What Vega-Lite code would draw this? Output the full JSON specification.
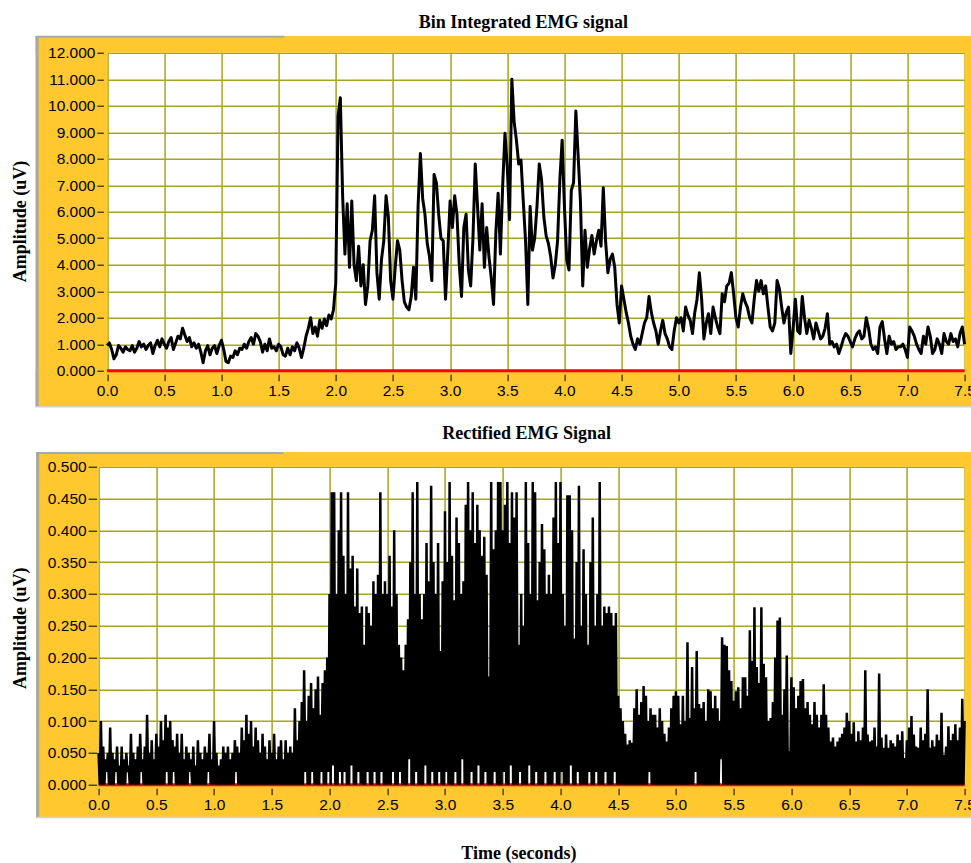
{
"$schema":"https://vega.github.io/schema/vega-lite/v6.json",
"background":"white",
"padding":{"left":11.6,"top":13.7,"right":0,"bottom":0},
"config":{
 "view":{"fill":"white","stroke":null},
 "axis":{"labelFont":"Liberation Sans","labelFontSize":15.5,"labelColor":"#000000","tickColor":"#000000","tickWidth":1,"domain":false,"titleFont":"Liberation Serif","titleFontSize":18,"titleFontWeight":"bold","titleColor":"#000000","gridColor":"#A6A61C","gridWidth":1.5,"gridOpacity":1,"labelOverlap":false,"labelFlush":false},
 "title":{"font":"Liberation Serif","fontSize":18,"fontWeight":"bold","color":"#000000"}
},
"datasets":{
"bin":[
{"t":0,"v":0.95},{"t":0.02,"v":1.05},{"t":0.04,"v":0.8},{"t":0.06,"v":0.45},{"t":0.08,"v":0.6},{"t":0.1,"v":0.95},{"t":0.12,"v":0.85},{"t":0.14,"v":0.7},{"t":0.16,"v":0.9},{"t":0.18,"v":0.8},
{"t":0.2,"v":0.75},{"t":0.22,"v":0.95},{"t":0.24,"v":0.7},{"t":0.26,"v":0.85},{"t":0.28,"v":1.1},{"t":0.3,"v":0.9},{"t":0.32,"v":1.0},{"t":0.34,"v":0.8},{"t":0.36,"v":0.95},{"t":0.38,"v":1.05},
{"t":0.4,"v":0.65},{"t":0.42,"v":0.95},{"t":0.44,"v":1.15},{"t":0.46,"v":0.9},{"t":0.48,"v":1.2},{"t":0.5,"v":1.0},{"t":0.52,"v":0.85},{"t":0.54,"v":1.1},{"t":0.56,"v":1.25},{"t":0.58,"v":0.8},
{"t":0.6,"v":1.05},{"t":0.62,"v":1.3},{"t":0.64,"v":1.2},{"t":0.66,"v":1.6},{"t":0.68,"v":1.35},{"t":0.7,"v":1.1},{"t":0.72,"v":1.25},{"t":0.74,"v":0.9},{"t":0.76,"v":1.05},{"t":0.78,"v":0.85},
{"t":0.8,"v":1.0},{"t":0.82,"v":0.7},{"t":0.84,"v":0.3},{"t":0.86,"v":0.75},{"t":0.88,"v":0.95},{"t":0.9,"v":0.6},{"t":0.92,"v":0.85},{"t":0.94,"v":0.95},{"t":0.96,"v":0.65},{"t":0.98,"v":0.95},
{"t":1.0,"v":1.15},{"t":1.02,"v":0.8},{"t":1.04,"v":0.35},{"t":1.06,"v":0.3},{"t":1.08,"v":0.55},{"t":1.1,"v":0.5},{"t":1.12,"v":0.75},{"t":1.14,"v":0.6},{"t":1.16,"v":0.85},{"t":1.18,"v":0.8},
{"t":1.2,"v":1.0},{"t":1.22,"v":0.85},{"t":1.24,"v":1.1},{"t":1.26,"v":1.25},{"t":1.28,"v":1.0},{"t":1.3,"v":1.4},{"t":1.32,"v":1.3},{"t":1.34,"v":1.1},{"t":1.36,"v":0.7},{"t":1.38,"v":1.0},
{"t":1.4,"v":0.75},{"t":1.42,"v":1.2},{"t":1.44,"v":0.85},{"t":1.46,"v":0.9},{"t":1.48,"v":0.75},{"t":1.5,"v":1.0},{"t":1.52,"v":0.9},{"t":1.54,"v":0.6},{"t":1.56,"v":0.55},{"t":1.58,"v":0.85},
{"t":1.6,"v":0.6},{"t":1.62,"v":0.9},{"t":1.64,"v":0.75},{"t":1.66,"v":1.05},{"t":1.68,"v":0.85},{"t":1.7,"v":0.5},{"t":1.72,"v":0.85},{"t":1.74,"v":1.3},{"t":1.76,"v":1.6},{"t":1.78,"v":2.0},
{"t":1.8,"v":1.4},{"t":1.82,"v":1.65},{"t":1.84,"v":1.3},{"t":1.86,"v":1.9},{"t":1.88,"v":1.6},{"t":1.9,"v":1.95},{"t":1.92,"v":1.7},{"t":1.94,"v":2.1},{"t":1.96,"v":1.95},{"t":1.98,"v":2.3},
{"t":2.0,"v":3.3},{"t":2.02,"v":9.6},{"t":2.04,"v":10.3},{"t":2.06,"v":6.6},{"t":2.08,"v":4.4},{"t":2.1,"v":6.3},{"t":2.12,"v":3.9},{"t":2.14,"v":6.4},{"t":2.16,"v":4.0},{"t":2.18,"v":3.4},
{"t":2.2,"v":4.7},{"t":2.22,"v":3.2},{"t":2.24,"v":4.0},{"t":2.26,"v":2.5},{"t":2.28,"v":3.2},{"t":2.3,"v":4.9},{"t":2.32,"v":5.3},{"t":2.34,"v":6.6},{"t":2.36,"v":3.7},{"t":2.38,"v":2.7},
{"t":2.4,"v":4.2},{"t":2.42,"v":4.9},{"t":2.44,"v":6.6},{"t":2.46,"v":5.8},{"t":2.48,"v":3.4},{"t":2.5,"v":2.7},{"t":2.52,"v":3.9},{"t":2.54,"v":4.9},{"t":2.56,"v":4.55},{"t":2.58,"v":3.4},
{"t":2.6,"v":2.6},{"t":2.62,"v":2.4},{"t":2.64,"v":2.3},{"t":2.66,"v":2.8},{"t":2.68,"v":3.9},{"t":2.7,"v":2.7},{"t":2.72,"v":6.2},{"t":2.74,"v":8.2},{"t":2.76,"v":6.5},{"t":2.78,"v":5.9},
{"t":2.8,"v":4.8},{"t":2.82,"v":4.3},{"t":2.84,"v":3.4},{"t":2.86,"v":7.4},{"t":2.88,"v":7.1},{"t":2.9,"v":5.9},{"t":2.92,"v":5.0},{"t":2.94,"v":4.9},{"t":2.96,"v":2.7},{"t":2.98,"v":4.5},
{"t":3.0,"v":6.4},{"t":3.02,"v":5.4},{"t":3.04,"v":6.6},{"t":3.06,"v":5.9},{"t":3.08,"v":4.0},{"t":3.1,"v":2.8},{"t":3.12,"v":5.4},{"t":3.14,"v":5.9},{"t":3.16,"v":3.8},{"t":3.18,"v":3.2},
{"t":3.2,"v":5.0},{"t":3.22,"v":7.8},{"t":3.24,"v":6.2},{"t":3.26,"v":4.55},{"t":3.28,"v":6.3},{"t":3.3,"v":3.9},{"t":3.32,"v":5.4},{"t":3.34,"v":4.3},{"t":3.36,"v":3.5},{"t":3.38,"v":2.5},
{"t":3.4,"v":5.2},{"t":3.42,"v":6.7},{"t":3.44,"v":4.4},{"t":3.46,"v":7.0},{"t":3.48,"v":8.96},{"t":3.5,"v":7.7},{"t":3.52,"v":5.7},{"t":3.54,"v":11.0},{"t":3.56,"v":9.4},{"t":3.58,"v":8.7},
{"t":3.6,"v":7.8},{"t":3.62,"v":7.95},{"t":3.64,"v":6.4},{"t":3.66,"v":4.9},{"t":3.68,"v":2.5},{"t":3.7,"v":6.2},{"t":3.72,"v":4.55},{"t":3.74,"v":5.0},{"t":3.76,"v":6.2},{"t":3.78,"v":7.8},
{"t":3.8,"v":7.2},{"t":3.82,"v":5.8},{"t":3.84,"v":5.1},{"t":3.86,"v":4.8},{"t":3.88,"v":4.3},{"t":3.9,"v":3.5},{"t":3.92,"v":4.0},{"t":3.94,"v":4.9},{"t":3.96,"v":7.2},{"t":3.98,"v":8.7},
{"t":4.0,"v":6.2},{"t":4.02,"v":4.2},{"t":4.04,"v":3.8},{"t":4.06,"v":6.8},{"t":4.08,"v":7.1},{"t":4.1,"v":9.8},{"t":4.12,"v":8.1},{"t":4.14,"v":6.4},{"t":4.16,"v":3.2},{"t":4.18,"v":5.3},
{"t":4.2,"v":3.9},{"t":4.22,"v":4.6},{"t":4.24,"v":5.1},{"t":4.26,"v":4.4},{"t":4.28,"v":4.9},{"t":4.3,"v":5.3},{"t":4.32,"v":4.7},{"t":4.34,"v":6.9},{"t":4.36,"v":4.9},{"t":4.38,"v":3.7},
{"t":4.4,"v":4.2},{"t":4.42,"v":4.4},{"t":4.44,"v":3.9},{"t":4.46,"v":2.5},{"t":4.48,"v":1.8},{"t":4.5,"v":3.2},{"t":4.52,"v":2.7},{"t":4.54,"v":2.2},{"t":4.56,"v":1.8},{"t":4.58,"v":1.3},
{"t":4.6,"v":1.0},{"t":4.62,"v":0.8},{"t":4.64,"v":1.2},{"t":4.66,"v":1.0},{"t":4.68,"v":1.4},{"t":4.7,"v":1.8},{"t":4.72,"v":2.0},{"t":4.74,"v":2.8},{"t":4.76,"v":2.2},{"t":4.78,"v":1.8},
{"t":4.8,"v":1.5},{"t":4.82,"v":1.0},{"t":4.84,"v":1.5},{"t":4.86,"v":1.9},{"t":4.88,"v":1.4},{"t":4.9,"v":1.2},{"t":4.92,"v":0.9},{"t":4.94,"v":0.8},{"t":4.96,"v":1.5},{"t":4.98,"v":2.0},
{"t":5.0,"v":1.8},{"t":5.02,"v":2.0},{"t":5.04,"v":1.5},{"t":5.06,"v":2.4},{"t":5.08,"v":2.1},{"t":5.1,"v":1.9},{"t":5.12,"v":1.4},{"t":5.14,"v":2.2},{"t":5.16,"v":2.7},{"t":5.18,"v":3.7},
{"t":5.2,"v":2.7},{"t":5.22,"v":1.2},{"t":5.24,"v":1.8},{"t":5.26,"v":2.15},{"t":5.28,"v":1.4},{"t":5.3,"v":2.4},{"t":5.32,"v":2.0},{"t":5.34,"v":1.65},{"t":5.36,"v":1.4},{"t":5.38,"v":2.9},
{"t":5.4,"v":2.6},{"t":5.42,"v":3.2},{"t":5.44,"v":3.3},{"t":5.46,"v":3.7},{"t":5.48,"v":2.9},{"t":5.5,"v":2.0},{"t":5.52,"v":1.65},{"t":5.54,"v":2.4},{"t":5.56,"v":2.9},{"t":5.58,"v":2.6},
{"t":5.6,"v":2.4},{"t":5.62,"v":2.0},{"t":5.64,"v":1.8},{"t":5.66,"v":2.7},{"t":5.68,"v":3.4},{"t":5.7,"v":3.0},{"t":5.72,"v":3.4},{"t":5.74,"v":2.9},{"t":5.76,"v":3.2},{"t":5.78,"v":2.4},
{"t":5.8,"v":1.65},{"t":5.82,"v":1.5},{"t":5.84,"v":1.8},{"t":5.86,"v":3.4},{"t":5.88,"v":3.1},{"t":5.9,"v":2.4},{"t":5.92,"v":1.8},{"t":5.94,"v":2.2},{"t":5.96,"v":2.4},{"t":5.98,"v":0.65},
{"t":6.0,"v":1.6},{"t":6.02,"v":2.7},{"t":6.04,"v":1.5},{"t":6.06,"v":1.4},{"t":6.08,"v":2.8},{"t":6.1,"v":2.0},{"t":6.12,"v":1.4},{"t":6.14,"v":1.9},{"t":6.16,"v":1.6},{"t":6.18,"v":1.2},
{"t":6.2,"v":1.8},{"t":6.22,"v":1.5},{"t":6.24,"v":1.2},{"t":6.26,"v":1.3},{"t":6.28,"v":1.6},{"t":6.3,"v":2.15},{"t":6.32,"v":1.0},{"t":6.34,"v":1.1},{"t":6.36,"v":0.9},{"t":6.38,"v":1.0},
{"t":6.4,"v":0.65},{"t":6.42,"v":0.9},{"t":6.44,"v":1.2},{"t":6.46,"v":1.4},{"t":6.48,"v":1.3},{"t":6.5,"v":1.1},{"t":6.52,"v":0.9},{"t":6.54,"v":1.2},{"t":6.56,"v":1.4},{"t":6.58,"v":1.5},
{"t":6.6,"v":1.2},{"t":6.62,"v":1.3},{"t":6.64,"v":2.0},{"t":6.66,"v":1.6},{"t":6.68,"v":1.0},{"t":6.7,"v":0.8},{"t":6.72,"v":0.9},{"t":6.74,"v":0.65},{"t":6.76,"v":1.65},{"t":6.78,"v":1.85},
{"t":6.8,"v":1.2},{"t":6.82,"v":0.65},{"t":6.84,"v":1.3},{"t":6.86,"v":1.0},{"t":6.88,"v":1.1},{"t":6.9,"v":0.8},{"t":6.92,"v":0.9},{"t":6.94,"v":0.9},{"t":6.96,"v":1.0},{"t":6.98,"v":0.8},
{"t":7.0,"v":0.5},{"t":7.02,"v":1.65},{"t":7.04,"v":1.5},{"t":7.06,"v":1.3},{"t":7.08,"v":1.0},{"t":7.1,"v":0.8},{"t":7.12,"v":0.65},{"t":7.14,"v":1.3},{"t":7.16,"v":1.0},{"t":7.18,"v":1.65},
{"t":7.2,"v":1.3},{"t":7.22,"v":0.65},{"t":7.24,"v":0.8},{"t":7.26,"v":1.2},{"t":7.28,"v":1.0},{"t":7.3,"v":0.65},{"t":7.32,"v":1.4},{"t":7.34,"v":1.1},{"t":7.36,"v":1.0},{"t":7.38,"v":1.4},
{"t":7.4,"v":1.1},{"t":7.42,"v":1.2},{"t":7.44,"v":0.9},{"t":7.46,"v":1.4},{"t":7.48,"v":1.65},{"t":7.5,"v":1.0}
],
"rect":[
{"t":0,"v":0.05},{"t":0.01,"v":0},{"t":0.02,"v":0.1},{"t":0.03,"v":0},{"t":0.04,"v":0.06},{"t":0.05,"v":0},{"t":0.06,"v":0.04},{"t":0.07,"v":0.02},{"t":0.08,"v":0.05},{"t":0.09,"v":0},
{"t":0.1,"v":0.09},{"t":0.11,"v":0},{"t":0.12,"v":0.05},{"t":0.13,"v":0},{"t":0.14,"v":0.04},{"t":0.15,"v":0.02},{"t":0.16,"v":0.06},{"t":0.17,"v":0},{"t":0.18,"v":0.03},{"t":0.19,"v":0},
{"t":0.2,"v":0.06},{"t":0.21,"v":0},{"t":0.22,"v":0.04},{"t":0.23,"v":0},{"t":0.24,"v":0.05},{"t":0.25,"v":0.02},{"t":0.26,"v":0.03},{"t":0.27,"v":0},{"t":0.28,"v":0.08},{"t":0.29,"v":0},
{"t":0.3,"v":0.05},{"t":0.31,"v":0},{"t":0.32,"v":0.04},{"t":0.33,"v":0},{"t":0.34,"v":0.06},{"t":0.35,"v":0},{"t":0.36,"v":0.08},{"t":0.37,"v":0.02},{"t":0.38,"v":0.04},{"t":0.39,"v":0},
{"t":0.4,"v":0.06},{"t":0.41,"v":0},{"t":0.42,"v":0.11},{"t":0.43,"v":0},{"t":0.44,"v":0.05},{"t":0.45,"v":0},{"t":0.46,"v":0.07},{"t":0.47,"v":0},{"t":0.48,"v":0.04},{"t":0.49,"v":0},
{"t":0.5,"v":0.08},{"t":0.51,"v":0},{"t":0.52,"v":0.06},{"t":0.53,"v":0},{"t":0.54,"v":0.1},{"t":0.55,"v":0},{"t":0.56,"v":0.07},{"t":0.57,"v":0},{"t":0.58,"v":0.11},{"t":0.59,"v":0.02},
{"t":0.6,"v":0.09},{"t":0.61,"v":0},{"t":0.62,"v":0.1},{"t":0.63,"v":0},{"t":0.64,"v":0.07},{"t":0.65,"v":0.02},{"t":0.66,"v":0.06},{"t":0.67,"v":0},{"t":0.68,"v":0.08},{"t":0.69,"v":0},
{"t":0.7,"v":0.05},{"t":0.71,"v":0},{"t":0.72,"v":0.08},{"t":0.73,"v":0},{"t":0.74,"v":0.04},{"t":0.75,"v":0},{"t":0.76,"v":0.06},{"t":0.77,"v":0},{"t":0.78,"v":0.05},{"t":0.79,"v":0.02},
{"t":0.8,"v":0.04},{"t":0.81,"v":0},{"t":0.82,"v":0.06},{"t":0.83,"v":0},{"t":0.84,"v":0.03},{"t":0.85,"v":0},{"t":0.86,"v":0.07},{"t":0.87,"v":0},{"t":0.88,"v":0.05},{"t":0.89,"v":0},
{"t":0.9,"v":0.04},{"t":0.91,"v":0},{"t":0.92,"v":0.06},{"t":0.93,"v":0},{"t":0.94,"v":0.05},{"t":0.95,"v":0.02},{"t":0.96,"v":0.08},{"t":0.97,"v":0},{"t":0.98,"v":0.04},{"t":0.99,"v":0},
{"t":1.0,"v":0.1},{"t":1.01,"v":0},{"t":1.02,"v":0.05},{"t":1.03,"v":0},{"t":1.04,"v":0.03},{"t":1.05,"v":0},{"t":1.06,"v":0.04},{"t":1.07,"v":0},{"t":1.08,"v":0.06},{"t":1.09,"v":0},
{"t":1.1,"v":0.05},{"t":1.11,"v":0},{"t":1.12,"v":0.06},{"t":1.13,"v":0},{"t":1.14,"v":0.04},{"t":1.15,"v":0},{"t":1.16,"v":0.05},{"t":1.17,"v":0},{"t":1.18,"v":0.07},{"t":1.19,"v":0.02},
{"t":1.2,"v":0.06},{"t":1.21,"v":0},{"t":1.22,"v":0.05},{"t":1.23,"v":0},{"t":1.24,"v":0.09},{"t":1.25,"v":0},{"t":1.26,"v":0.07},{"t":1.27,"v":0},{"t":1.28,"v":0.11},{"t":1.29,"v":0},
{"t":1.3,"v":0.08},{"t":1.31,"v":0},{"t":1.32,"v":0.1},{"t":1.33,"v":0},{"t":1.34,"v":0.06},{"t":1.35,"v":0},{"t":1.36,"v":0.09},{"t":1.37,"v":0},{"t":1.38,"v":0.07},{"t":1.39,"v":0},
{"t":1.4,"v":0.05},{"t":1.41,"v":0},{"t":1.42,"v":0.08},{"t":1.43,"v":0},{"t":1.44,"v":0.06},{"t":1.45,"v":0},{"t":1.46,"v":0.04},{"t":1.47,"v":0},{"t":1.48,"v":0.07},{"t":1.49,"v":0},
{"t":1.5,"v":0.05},{"t":1.51,"v":0},{"t":1.52,"v":0.08},{"t":1.53,"v":0},{"t":1.54,"v":0.04},{"t":1.55,"v":0},{"t":1.56,"v":0.06},{"t":1.57,"v":0},{"t":1.58,"v":0.07},{"t":1.59,"v":0},
{"t":1.6,"v":0.04},{"t":1.61,"v":0},{"t":1.62,"v":0.07},{"t":1.63,"v":0},{"t":1.64,"v":0.05},{"t":1.65,"v":0},{"t":1.66,"v":0.06},{"t":1.67,"v":0},{"t":1.68,"v":0.05},{"t":1.69,"v":0},
{"t":1.7,"v":0.12},{"t":1.71,"v":0},{"t":1.72,"v":0.07},{"t":1.73,"v":0},{"t":1.74,"v":0.1},{"t":1.75,"v":0},{"t":1.76,"v":0.13},{"t":1.77,"v":0},{"t":1.78,"v":0.18},{"t":1.79,"v":0.02},
{"t":1.8,"v":0.1},{"t":1.81,"v":0},{"t":1.82,"v":0.14},{"t":1.83,"v":0},{"t":1.84,"v":0.16},{"t":1.85,"v":0.02},{"t":1.86,"v":0.12},{"t":1.87,"v":0},{"t":1.88,"v":0.15},{"t":1.89,"v":0},
{"t":1.9,"v":0.17},{"t":1.91,"v":0},{"t":1.92,"v":0.11},{"t":1.93,"v":0.02},{"t":1.94,"v":0.16},{"t":1.95,"v":0},{"t":1.96,"v":0.18},{"t":1.97,"v":0},{"t":1.98,"v":0.2},{"t":1.99,"v":0.02},
{"t":2.0,"v":0.3},{"t":2.01,"v":0},{"t":2.02,"v":0.46},{"t":2.03,"v":0.03},{"t":2.04,"v":0.46},{"t":2.05,"v":0},{"t":2.06,"v":0.3},{"t":2.07,"v":0},{"t":2.08,"v":0.4},{"t":2.09,"v":0.02},
{"t":2.1,"v":0.46},{"t":2.11,"v":0},{"t":2.12,"v":0.36},{"t":2.13,"v":0.02},{"t":2.14,"v":0.3},{"t":2.15,"v":0},{"t":2.16,"v":0.46},{"t":2.17,"v":0},{"t":2.18,"v":0.34},{"t":2.19,"v":0.03},
{"t":2.2,"v":0.36},{"t":2.21,"v":0},{"t":2.22,"v":0.28},{"t":2.23,"v":0},{"t":2.24,"v":0.34},{"t":2.25,"v":0.02},{"t":2.26,"v":0.27},{"t":2.27,"v":0},{"t":2.28,"v":0.28},{"t":2.29,"v":0},
{"t":2.3,"v":0.22},{"t":2.31,"v":0},{"t":2.32,"v":0.28},{"t":2.33,"v":0.02},{"t":2.34,"v":0.27},{"t":2.35,"v":0},{"t":2.36,"v":0.25},{"t":2.37,"v":0},{"t":2.38,"v":0.32},{"t":2.39,"v":0.02},
{"t":2.4,"v":0.3},{"t":2.41,"v":0},{"t":2.42,"v":0.33},{"t":2.43,"v":0},{"t":2.44,"v":0.46},{"t":2.45,"v":0.02},{"t":2.46,"v":0.3},{"t":2.47,"v":0},{"t":2.48,"v":0.32},{"t":2.49,"v":0},
{"t":2.5,"v":0.3},{"t":2.51,"v":0},{"t":2.52,"v":0.36},{"t":2.53,"v":0},{"t":2.54,"v":0.28},{"t":2.55,"v":0.02},{"t":2.56,"v":0.4},{"t":2.57,"v":0},{"t":2.58,"v":0.3},{"t":2.59,"v":0},
{"t":2.6,"v":0.22},{"t":2.61,"v":0.02},{"t":2.62,"v":0.2},{"t":2.63,"v":0},{"t":2.64,"v":0.18},{"t":2.65,"v":0},{"t":2.66,"v":0.22},{"t":2.67,"v":0},{"t":2.68,"v":0.26},{"t":2.69,"v":0.04},
{"t":2.7,"v":0.35},{"t":2.71,"v":0},{"t":2.72,"v":0.46},{"t":2.73,"v":0},{"t":2.74,"v":0.3},{"t":2.75,"v":0.02},{"t":2.76,"v":0.476},{"t":2.77,"v":0},{"t":2.78,"v":0.3},{"t":2.79,"v":0},
{"t":2.8,"v":0.26},{"t":2.81,"v":0},{"t":2.82,"v":0.3},{"t":2.83,"v":0.03},{"t":2.84,"v":0.38},{"t":2.85,"v":0},{"t":2.86,"v":0.32},{"t":2.87,"v":0},{"t":2.88,"v":0.47},{"t":2.89,"v":0.02},
{"t":2.9,"v":0.35},{"t":2.91,"v":0},{"t":2.92,"v":0.3},{"t":2.93,"v":0},{"t":2.94,"v":0.38},{"t":2.95,"v":0.02},{"t":2.96,"v":0.21},{"t":2.97,"v":0},{"t":2.98,"v":0.32},{"t":2.99,"v":0},
{"t":3.0,"v":0.43},{"t":3.01,"v":0.02},{"t":3.02,"v":0.35},{"t":3.03,"v":0},{"t":3.04,"v":0.476},{"t":3.05,"v":0},{"t":3.06,"v":0.36},{"t":3.07,"v":0},{"t":3.08,"v":0.29},{"t":3.09,"v":0.02},
{"t":3.1,"v":0.42},{"t":3.11,"v":0},{"t":3.12,"v":0.38},{"t":3.13,"v":0},{"t":3.14,"v":0.3},{"t":3.15,"v":0.04},{"t":3.16,"v":0.32},{"t":3.17,"v":0},{"t":3.18,"v":0.44},{"t":3.19,"v":0},
{"t":3.2,"v":0.476},{"t":3.21,"v":0},{"t":3.22,"v":0.4},{"t":3.23,"v":0.02},{"t":3.24,"v":0.46},{"t":3.25,"v":0},{"t":3.26,"v":0.38},{"t":3.27,"v":0},{"t":3.28,"v":0.44},{"t":3.29,"v":0.03},
{"t":3.3,"v":0.4},{"t":3.31,"v":0},{"t":3.32,"v":0.36},{"t":3.33,"v":0},{"t":3.34,"v":0.39},{"t":3.35,"v":0.02},{"t":3.36,"v":0.33},{"t":3.37,"v":0},{"t":3.38,"v":0.17},{"t":3.39,"v":0},
{"t":3.4,"v":0.476},{"t":3.41,"v":0},{"t":3.42,"v":0.37},{"t":3.43,"v":0.02},{"t":3.44,"v":0.4},{"t":3.45,"v":0},{"t":3.46,"v":0.476},{"t":3.47,"v":0},{"t":3.48,"v":0.476},{"t":3.49,"v":0},
{"t":3.5,"v":0.4},{"t":3.51,"v":0.02},{"t":3.52,"v":0.44},{"t":3.53,"v":0},{"t":3.54,"v":0.476},{"t":3.55,"v":0},{"t":3.56,"v":0.38},{"t":3.57,"v":0.03},{"t":3.58,"v":0.46},{"t":3.59,"v":0},
{"t":3.6,"v":0.42},{"t":3.61,"v":0},{"t":3.62,"v":0.46},{"t":3.63,"v":0},{"t":3.64,"v":0.22},{"t":3.65,"v":0.02},{"t":3.66,"v":0.3},{"t":3.67,"v":0},{"t":3.68,"v":0.25},{"t":3.69,"v":0},
{"t":3.7,"v":0.476},{"t":3.71,"v":0},{"t":3.72,"v":0.38},{"t":3.73,"v":0.03},{"t":3.74,"v":0.3},{"t":3.75,"v":0},{"t":3.76,"v":0.476},{"t":3.77,"v":0},{"t":3.78,"v":0.46},{"t":3.79,"v":0.02},
{"t":3.8,"v":0.29},{"t":3.81,"v":0},{"t":3.82,"v":0.35},{"t":3.83,"v":0},{"t":3.84,"v":0.41},{"t":3.85,"v":0},{"t":3.86,"v":0.37},{"t":3.87,"v":0.02},{"t":3.88,"v":0.3},{"t":3.89,"v":0},
{"t":3.9,"v":0.33},{"t":3.91,"v":0},{"t":3.92,"v":0.3},{"t":3.93,"v":0},{"t":3.94,"v":0.42},{"t":3.95,"v":0.02},{"t":3.96,"v":0.476},{"t":3.97,"v":0},{"t":3.98,"v":0.38},{"t":3.99,"v":0},
{"t":4.0,"v":0.476},{"t":4.01,"v":0.02},{"t":4.02,"v":0.3},{"t":4.03,"v":0},{"t":4.04,"v":0.25},{"t":4.05,"v":0},{"t":4.06,"v":0.455},{"t":4.07,"v":0},{"t":4.08,"v":0.455},{"t":4.09,"v":0.03},
{"t":4.1,"v":0.4},{"t":4.11,"v":0},{"t":4.12,"v":0.23},{"t":4.13,"v":0},{"t":4.14,"v":0.35},{"t":4.15,"v":0.02},{"t":4.16,"v":0.47},{"t":4.17,"v":0},{"t":4.18,"v":0.25},{"t":4.19,"v":0},
{"t":4.2,"v":0.37},{"t":4.21,"v":0},{"t":4.22,"v":0.3},{"t":4.23,"v":0},{"t":4.24,"v":0.22},{"t":4.25,"v":0.02},{"t":4.26,"v":0.35},{"t":4.27,"v":0},{"t":4.28,"v":0.42},{"t":4.29,"v":0},
{"t":4.3,"v":0.25},{"t":4.31,"v":0.02},{"t":4.32,"v":0.3},{"t":4.33,"v":0},{"t":4.34,"v":0.476},{"t":4.35,"v":0},{"t":4.36,"v":0.25},{"t":4.37,"v":0},{"t":4.38,"v":0.28},{"t":4.39,"v":0.02},
{"t":4.4,"v":0.27},{"t":4.41,"v":0},{"t":4.42,"v":0.28},{"t":4.43,"v":0},{"t":4.44,"v":0.27},{"t":4.45,"v":0},{"t":4.46,"v":0.25},{"t":4.47,"v":0.02},{"t":4.48,"v":0.27},{"t":4.49,"v":0},
{"t":4.5,"v":0.14},{"t":4.51,"v":0},{"t":4.52,"v":0.12},{"t":4.53,"v":0},{"t":4.54,"v":0.1},{"t":4.55,"v":0},{"t":4.56,"v":0.08},{"t":4.57,"v":0},{"t":4.58,"v":0.063},{"t":4.59,"v":0},
{"t":4.6,"v":0.07},{"t":4.61,"v":0},{"t":4.62,"v":0.066},{"t":4.63,"v":0},{"t":4.64,"v":0.12},{"t":4.65,"v":0},{"t":4.66,"v":0.15},{"t":4.67,"v":0},{"t":4.68,"v":0.11},{"t":4.69,"v":0},
{"t":4.7,"v":0.13},{"t":4.71,"v":0},{"t":4.72,"v":0.155},{"t":4.73,"v":0},{"t":4.74,"v":0.14},{"t":4.75,"v":0},{"t":4.76,"v":0.1},{"t":4.77,"v":0.02},{"t":4.78,"v":0.12},{"t":4.79,"v":0},
{"t":4.8,"v":0.11},{"t":4.81,"v":0},{"t":4.82,"v":0.11},{"t":4.83,"v":0},{"t":4.84,"v":0.09},{"t":4.85,"v":0},{"t":4.86,"v":0.12},{"t":4.87,"v":0},{"t":4.88,"v":0.1},{"t":4.89,"v":0},
{"t":4.9,"v":0.08},{"t":4.91,"v":0},{"t":4.92,"v":0.068},{"t":4.93,"v":0},{"t":4.94,"v":0.09},{"t":4.95,"v":0},{"t":4.96,"v":0.12},{"t":4.97,"v":0},{"t":4.98,"v":0.14},{"t":4.99,"v":0},
{"t":5.0,"v":0.147},{"t":5.01,"v":0},{"t":5.02,"v":0.14},{"t":5.03,"v":0},{"t":5.04,"v":0.095},{"t":5.05,"v":0},{"t":5.06,"v":0.14},{"t":5.07,"v":0},{"t":5.08,"v":0.1},{"t":5.09,"v":0},
{"t":5.1,"v":0.224},{"t":5.11,"v":0},{"t":5.12,"v":0.105},{"t":5.13,"v":0},{"t":5.14,"v":0.185},{"t":5.15,"v":0},{"t":5.16,"v":0.12},{"t":5.17,"v":0.02},{"t":5.18,"v":0.21},{"t":5.19,"v":0},
{"t":5.2,"v":0.127},{"t":5.21,"v":0},{"t":5.22,"v":0.12},{"t":5.23,"v":0},{"t":5.24,"v":0.13},{"t":5.25,"v":0},{"t":5.26,"v":0.1},{"t":5.27,"v":0},{"t":5.28,"v":0.15},{"t":5.29,"v":0},
{"t":5.3,"v":0.147},{"t":5.31,"v":0},{"t":5.32,"v":0.12},{"t":5.33,"v":0},{"t":5.34,"v":0.14},{"t":5.35,"v":0},{"t":5.36,"v":0.12},{"t":5.37,"v":0},{"t":5.38,"v":0.1},{"t":5.39,"v":0.04},
{"t":5.4,"v":0.232},{"t":5.41,"v":0},{"t":5.42,"v":0.22},{"t":5.43,"v":0},{"t":5.44,"v":0.218},{"t":5.45,"v":0},{"t":5.46,"v":0.18},{"t":5.47,"v":0},{"t":5.48,"v":0.163},{"t":5.49,"v":0},
{"t":5.5,"v":0.132},{"t":5.51,"v":0},{"t":5.52,"v":0.147},{"t":5.53,"v":0},{"t":5.54,"v":0.153},{"t":5.55,"v":0},{"t":5.56,"v":0.12},{"t":5.57,"v":0},{"t":5.58,"v":0.169},{"t":5.59,"v":0},
{"t":5.6,"v":0.169},{"t":5.61,"v":0},{"t":5.62,"v":0.14},{"t":5.63,"v":0},{"t":5.64,"v":0.243},{"t":5.65,"v":0},{"t":5.66,"v":0.195},{"t":5.67,"v":0},{"t":5.68,"v":0.279},{"t":5.69,"v":0},
{"t":5.7,"v":0.185},{"t":5.71,"v":0},{"t":5.72,"v":0.16},{"t":5.73,"v":0},{"t":5.74,"v":0.279},{"t":5.75,"v":0},{"t":5.76,"v":0.19},{"t":5.77,"v":0},{"t":5.78,"v":0.169},{"t":5.79,"v":0},
{"t":5.8,"v":0.1},{"t":5.81,"v":0},{"t":5.82,"v":0.105},{"t":5.83,"v":0},{"t":5.84,"v":0.13},{"t":5.85,"v":0},{"t":5.86,"v":0.2},{"t":5.87,"v":0},{"t":5.88,"v":0.258},{"t":5.89,"v":0},
{"t":5.9,"v":0.263},{"t":5.91,"v":0},{"t":5.92,"v":0.11},{"t":5.93,"v":0},{"t":5.94,"v":0.15},{"t":5.95,"v":0},{"t":5.96,"v":0.203},{"t":5.97,"v":0},{"t":5.98,"v":0.053},{"t":5.99,"v":0},
{"t":6.0,"v":0.169},{"t":6.01,"v":0},{"t":6.02,"v":0.153},{"t":6.03,"v":0},{"t":6.04,"v":0.12},{"t":6.05,"v":0},{"t":6.06,"v":0.14},{"t":6.07,"v":0},{"t":6.08,"v":0.163},{"t":6.09,"v":0},
{"t":6.1,"v":0.166},{"t":6.11,"v":0},{"t":6.12,"v":0.12},{"t":6.13,"v":0},{"t":6.14,"v":0.13},{"t":6.15,"v":0},{"t":6.16,"v":0.11},{"t":6.17,"v":0},{"t":6.18,"v":0.095},{"t":6.19,"v":0},
{"t":6.2,"v":0.13},{"t":6.21,"v":0},{"t":6.22,"v":0.11},{"t":6.23,"v":0},{"t":6.24,"v":0.09},{"t":6.25,"v":0},{"t":6.26,"v":0.11},{"t":6.27,"v":0},{"t":6.28,"v":0.158},{"t":6.29,"v":0},
{"t":6.3,"v":0.11},{"t":6.31,"v":0},{"t":6.32,"v":0.09},{"t":6.33,"v":0},{"t":6.34,"v":0.068},{"t":6.35,"v":0},{"t":6.36,"v":0.074},{"t":6.37,"v":0},{"t":6.38,"v":0.06},{"t":6.39,"v":0},
{"t":6.4,"v":0.068},{"t":6.41,"v":0},{"t":6.42,"v":0.074},{"t":6.43,"v":0},{"t":6.44,"v":0.08},{"t":6.45,"v":0},{"t":6.46,"v":0.09},{"t":6.47,"v":0},{"t":6.48,"v":0.113},{"t":6.49,"v":0},
{"t":6.5,"v":0.1},{"t":6.51,"v":0},{"t":6.52,"v":0.08},{"t":6.53,"v":0},{"t":6.54,"v":0.098},{"t":6.55,"v":0},{"t":6.56,"v":0.068},{"t":6.57,"v":0},{"t":6.58,"v":0.084},{"t":6.59,"v":0},
{"t":6.6,"v":0.07},{"t":6.61,"v":0},{"t":6.62,"v":0.09},{"t":6.63,"v":0},{"t":6.64,"v":0.18},{"t":6.65,"v":0},{"t":6.66,"v":0.079},{"t":6.67,"v":0},{"t":6.68,"v":0.068},{"t":6.69,"v":0},
{"t":6.7,"v":0.07},{"t":6.71,"v":0},{"t":6.72,"v":0.09},{"t":6.73,"v":0},{"t":6.74,"v":0.06},{"t":6.75,"v":0},{"t":6.76,"v":0.175},{"t":6.77,"v":0},{"t":6.78,"v":0.074},{"t":6.79,"v":0},
{"t":6.8,"v":0.058},{"t":6.81,"v":0},{"t":6.82,"v":0.079},{"t":6.83,"v":0},{"t":6.84,"v":0.058},{"t":6.85,"v":0},{"t":6.86,"v":0.07},{"t":6.87,"v":0},{"t":6.88,"v":0.065},{"t":6.89,"v":0},
{"t":6.9,"v":0.06},{"t":6.91,"v":0},{"t":6.92,"v":0.079},{"t":6.93,"v":0},{"t":6.94,"v":0.07},{"t":6.95,"v":0},{"t":6.96,"v":0.084},{"t":6.97,"v":0},{"t":6.98,"v":0.042},{"t":6.99,"v":0},
{"t":7.0,"v":0.07},{"t":7.01,"v":0},{"t":7.02,"v":0.09},{"t":7.03,"v":0},{"t":7.04,"v":0.108},{"t":7.05,"v":0},{"t":7.06,"v":0.079},{"t":7.07,"v":0},{"t":7.08,"v":0.06},{"t":7.09,"v":0},
{"t":7.1,"v":0.058},{"t":7.11,"v":0},{"t":7.12,"v":0.09},{"t":7.13,"v":0},{"t":7.14,"v":0.07},{"t":7.15,"v":0},{"t":7.16,"v":0.08},{"t":7.17,"v":0},{"t":7.18,"v":0.15},{"t":7.19,"v":0},
{"t":7.2,"v":0.058},{"t":7.21,"v":0},{"t":7.22,"v":0.07},{"t":7.23,"v":0},{"t":7.24,"v":0.06},{"t":7.25,"v":0},{"t":7.26,"v":0.079},{"t":7.27,"v":0},{"t":7.28,"v":0.07},{"t":7.29,"v":0},
{"t":7.3,"v":0.113},{"t":7.31,"v":0},{"t":7.32,"v":0.047},{"t":7.33,"v":0},{"t":7.34,"v":0.06},{"t":7.35,"v":0},{"t":7.36,"v":0.092},{"t":7.37,"v":0},{"t":7.38,"v":0.07},{"t":7.39,"v":0},
{"t":7.4,"v":0.08},{"t":7.41,"v":0},{"t":7.42,"v":0.095},{"t":7.43,"v":0},{"t":7.44,"v":0.07},{"t":7.45,"v":0},{"t":7.46,"v":0.09},{"t":7.47,"v":0},{"t":7.48,"v":0.135},{"t":7.49,"v":0},
{"t":7.5,"v":0.1}
]
},
"concat":[
{
 "title":{"text":"Bin Integrated EMG signal","anchor":"middle","frame":"group","baseline":"alphabetic","offset":-11.2,"dx":-8.2},
 "width":866,"height":318,
 "layer":[
  {"data":{"values":[{}]},"mark":{"type":"rect","color":"#FFC82E"},"encoding":{"x":{"datum":-0.625,"axis":null},"x2":{"datum":0},"y":{"datum":-1.37,"axis":null},"y2":{"datum":12.63}}},
  {"data":{"values":[{}]},"mark":{"type":"rect","color":"#FFC82E"},"encoding":{"x":{"datum":7.5,"axis":null},"x2":{"datum":7.557},"y":{"datum":-1.37,"axis":null},"y2":{"datum":12.63}}},
  {"data":{"values":[{}]},"mark":{"type":"rect","color":"#FFC82E"},"encoding":{"x":{"datum":-0.625,"axis":null},"x2":{"datum":7.557},"y":{"datum":12,"axis":null},"y2":{"datum":12.63}}},
  {"data":{"values":[{}]},"mark":{"type":"rect","color":"#FFC82E"},"encoding":{"x":{"datum":-0.625,"axis":null},"x2":{"datum":7.557},"y":{"datum":-1.37,"axis":null},"y2":{"datum":0}}},
  {"data":{"values":[{}]},"mark":{"type":"rule","color":"#A8A8A8","strokeWidth":3},"encoding":{"x":{"datum":-0.612,"axis":null},"y":{"datum":-1.37,"axis":null},"y2":{"datum":12.63}}},
  {"data":{"values":[{}]},"mark":{"type":"rule","color":"#A8A8A8","strokeWidth":2},"encoding":{"x":{"datum":-0.625,"axis":null},"x2":{"datum":1.55},"y":{"datum":12.6,"axis":null}}},
  {"data":{"values":[{}]},"mark":{"type":"rule","color":"#CFCFCF","strokeWidth":1.5},"encoding":{"x":{"datum":-0.625,"axis":null},"x2":{"datum":7.557},"y":{"datum":-1.36,"axis":null}}},
  {"data":{"values":[{}]},"mark":{"type":"rule","color":"#FF0000","strokeWidth":3},"encoding":{
    "x":{"datum":0,"axis":{"orient":"bottom","grid":false,"values":[0,0.5,1,1.5,2,2.5,3,3.5,4,4.5,5,5.5,6,6.5,7,7.5],"format":".1f","offset":3.5,"tickSize":6.5,"labelPadding":3,"title":null,"zindex":1}},
    "x2":{"datum":7.5},
    "y":{"datum":0,"axis":{"orient":"left","grid":false,"values":[0,1,2,3,4,5,6,7,8,9,10,11,12],"format":".3f","offset":-4.8,"tickSize":6.5,"labelPadding":2,"title":"Amplitude (uV)","titlePadding":17.7,"titleY":168.3,"zindex":1}}}},
  {"data":{"name":"bin"},"mark":{"type":"line","color":"#000000","strokeWidth":3,"strokeJoin":"round"},"encoding":{
    "x":{"field":"t","type":"quantitative","scale":{"domain":[0,7.5],"range":[8.5,866],"nice":false,"zero":false},"axis":{"orient":"bottom","grid":true,"labels":false,"ticks":false,"domain":false,"title":null,"values":[0,0.5,1,1.5,2,2.5,3,3.5,4,4.5,5,5.5,6,6.5,7,7.5],"zindex":0}},
    "y":{"field":"v","type":"quantitative","scale":{"domain":[0,12],"nice":false,"zero":false},"axis":{"orient":"left","grid":true,"labels":false,"ticks":false,"domain":false,"title":null,"values":[0,1,2,3,4,5,6,7,8,9,10,11,12],"zindex":0}}}}
 ],
 "resolve":{"axis":{"x":"independent","y":"independent"}}
},
{
 "title":{"text":"Rectified EMG Signal","anchor":"middle","frame":"group","baseline":"alphabetic","offset":-6.5,"dx":-5},
 "width":866,"height":318,
 "layer":[
  {"data":{"values":[{}]},"mark":{"type":"rect","color":"#FFC82E"},"encoding":{"x":{"datum":-0.541,"axis":null},"x2":{"datum":0},"y":{"datum":-0.0524,"axis":null},"y2":{"datum":0.523}}},
  {"data":{"values":[{}]},"mark":{"type":"rect","color":"#FFC82E"},"encoding":{"x":{"datum":7.5,"axis":null},"x2":{"datum":7.556},"y":{"datum":-0.0524,"axis":null},"y2":{"datum":0.523}}},
  {"data":{"values":[{}]},"mark":{"type":"rect","color":"#FFC82E"},"encoding":{"x":{"datum":-0.541,"axis":null},"x2":{"datum":7.556},"y":{"datum":0.5,"axis":null},"y2":{"datum":0.523}}},
  {"data":{"values":[{}]},"mark":{"type":"rect","color":"#FFC82E"},"encoding":{"x":{"datum":-0.541,"axis":null},"x2":{"datum":7.556},"y":{"datum":-0.0524,"axis":null},"y2":{"datum":0}}},
  {"data":{"values":[{}]},"mark":{"type":"rule","color":"#A8A8A8","strokeWidth":3},"encoding":{"x":{"datum":-0.528,"axis":null},"y":{"datum":-0.0524,"axis":null},"y2":{"datum":0.523}}},
  {"data":{"values":[{}]},"mark":{"type":"rule","color":"#A8A8A8","strokeWidth":2},"encoding":{"x":{"datum":-0.541,"axis":null},"x2":{"datum":1.6},"y":{"datum":0.5215,"axis":null}}},
  {"data":{"values":[{}]},"mark":{"type":"rule","color":"#CFCFCF","strokeWidth":1.5},"encoding":{"x":{"datum":-0.541,"axis":null},"x2":{"datum":7.556},"y":{"datum":-0.0515,"axis":null}}},
  {"data":{"values":[{}]},"mark":{"type":"rule","color":"#FF0000","strokeWidth":3},"encoding":{
    "x":{"datum":0,"axis":{"orient":"bottom","grid":false,"values":[0,0.5,1,1.5,2,2.5,3,3.5,4,4.5,5,5.5,6,6.5,7,7.5],"format":".1f","offset":3.5,"tickSize":6.5,"labelPadding":3,"title":"Time (seconds)","titlePadding":31,"titleX":419.8,"zindex":1}},
    "x2":{"datum":7.5},
    "y":{"datum":0,"axis":{"orient":"left","grid":false,"values":[0,0.05,0.1,0.15,0.2,0.25,0.3,0.35,0.4,0.45,0.5],"format":".3f","offset":2,"tickSize":8.5,"labelPadding":2,"title":"Amplitude (uV)","titlePadding":17.7,"titleY":161,"zindex":1}}}},
  {"data":{"name":"rect"},"mark":{"type":"line","color":"#000000","strokeWidth":2.5,"strokeJoin":"bevel"},"encoding":{
    "x":{"field":"t","type":"quantitative","scale":{"domain":[0,7.5],"nice":false,"zero":false},"axis":{"orient":"bottom","grid":true,"labels":false,"ticks":false,"domain":false,"title":null,"values":[0,0.5,1,1.5,2,2.5,3,3.5,4,4.5,5,5.5,6,6.5,7,7.5],"zindex":0}},
    "y":{"field":"v","type":"quantitative","scale":{"domain":[0,0.5],"nice":false,"zero":false},"axis":{"orient":"left","grid":true,"labels":false,"ticks":false,"domain":false,"title":null,"values":[0,0.05,0.1,0.15,0.2,0.25,0.3,0.35,0.4,0.45,0.5],"zindex":0}}}}
 ],
 "resolve":{"axis":{"x":"independent","y":"independent"}}
}
],
"columns":1,
"spacing":16
}
